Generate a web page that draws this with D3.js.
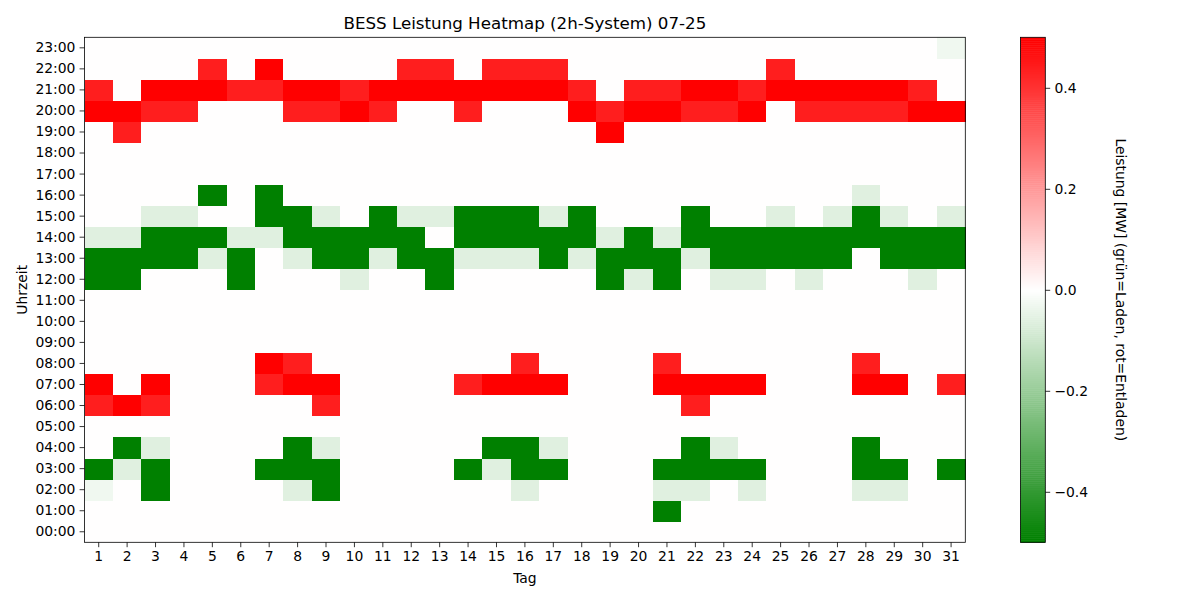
<!DOCTYPE html>
<html>
<head>
<meta charset="utf-8">
<script src="https://cdn.jsdelivr.net/npm/d3@7"></script>
<style>
  body { margin: 0; background: #fff; }
  svg { font-family: "DejaVu Sans", sans-serif; }
</style>
</head>
<body>
<div id="chart"></div>
<script>
// Tage 1..31, Stunden 00:00..23:00
const days = d3.range(1, 32);
const hourLabels = d3.range(0, 24).map(h => `${String(h).padStart(2, '0')}:00`);
const cbTicks = [-0.4, -0.2, 0.0, 0.2, 0.4];

// Leistung [MW] je Stunde, Tag 1..31 (0.5 = voll entladen, -0.5 = voll laden)
const h00 = [0,0,0,0,0,0,0,0,0,0,0,0,0,0,0,0,0,0,0,0,0,0,0,0,0,0,0,0,0,0,0];
const h01 = [0,0,0,0,0,0,0,0,0,0,0,0,0,0,0,0,0,0,0,0,-0.5,0,0,0,0,0,0,0,0,0,0];
const h02 = [-0.03,0,-0.5,0,0,0,0,-0.06,-0.5,0,0,0,0,0,0,-0.06,0,0,0,0,-0.06,-0.06,0,-0.06,0,0,0,-0.06,-0.06,0,0];
const h03 = [-0.5,-0.06,-0.5,0,0,0,-0.5,-0.5,-0.5,0,0,0,0,-0.5,-0.06,-0.5,-0.5,0,0,0,-0.5,-0.5,-0.5,-0.5,0,0,0,-0.5,-0.5,0,-0.5];
const h04 = [0,-0.5,-0.06,0,0,0,0,-0.5,-0.06,0,0,0,0,0,-0.5,-0.5,-0.06,0,0,0,0,-0.5,-0.06,0,0,0,0,-0.5,0,0,0];
const h05 = [0,0,0,0,0,0,0,0,0,0,0,0,0,0,0,0,0,0,0,0,0,0,0,0,0,0,0,0,0,0,0];
const h06 = [0.44,0.5,0.44,0,0,0,0,0,0.44,0,0,0,0,0,0,0,0,0,0,0,0,0.44,0,0,0,0,0,0,0,0,0];
const h07 = [0.5,0,0.5,0,0,0,0.44,0.5,0.5,0,0,0,0,0.44,0.5,0.5,0.5,0,0,0,0.5,0.5,0.5,0.5,0,0,0,0.5,0.5,0,0.44];
const h08 = [0,0,0,0,0,0,0.5,0.44,0,0,0,0,0,0,0,0.44,0,0,0,0,0.44,0,0,0,0,0,0,0.44,0,0,0];
const h09 = [0,0,0,0,0,0,0,0,0,0,0,0,0,0,0,0,0,0,0,0,0,0,0,0,0,0,0,0,0,0,0];
const h10 = [0,0,0,0,0,0,0,0,0,0,0,0,0,0,0,0,0,0,0,0,0,0,0,0,0,0,0,0,0,0,0];
const h11 = [0,0,0,0,0,0,0,0,0,0,0,0,0,0,0,0,0,0,0,0,0,0,0,0,0,0,0,0,0,0,0];
const h12 = [-0.5,-0.5,0,0,0,-0.5,0,0,0,-0.06,0,0,-0.5,0,0,0,0,0,-0.5,-0.06,-0.5,0,-0.06,-0.06,0,-0.06,0,0,0,-0.06,0];
const h13 = [-0.5,-0.5,-0.5,-0.5,-0.06,-0.5,0,-0.06,-0.5,-0.5,-0.06,-0.5,-0.5,-0.06,-0.06,-0.06,-0.5,-0.06,-0.5,-0.5,-0.5,-0.06,-0.5,-0.5,-0.5,-0.5,-0.5,0,-0.5,-0.5,-0.5];
const h14 = [-0.06,-0.06,-0.5,-0.5,-0.5,-0.06,-0.06,-0.5,-0.5,-0.5,-0.5,-0.5,0,-0.5,-0.5,-0.5,-0.5,-0.5,-0.06,-0.5,-0.06,-0.5,-0.5,-0.5,-0.5,-0.5,-0.5,-0.5,-0.5,-0.5,-0.5];
const h15 = [0,0,-0.06,-0.06,0,0,-0.5,-0.5,-0.06,0,-0.5,-0.06,-0.06,-0.5,-0.5,-0.5,-0.06,-0.5,0,0,0,-0.5,0,0,-0.06,0,-0.06,-0.5,-0.06,0,-0.06];
const h16 = [0,0,0,0,-0.5,0,-0.5,0,0,0,0,0,0,0,0,0,0,0,0,0,0,0,0,0,0,0,0,-0.06,0,0,0];
const h17 = [0,0,0,0,0,0,0,0,0,0,0,0,0,0,0,0,0,0,0,0,0,0,0,0,0,0,0,0,0,0,0];
const h18 = [0,0,0,0,0,0,0,0,0,0,0,0,0,0,0,0,0,0,0,0,0,0,0,0,0,0,0,0,0,0,0];
const h19 = [0,0.44,0,0,0,0,0,0,0,0,0,0,0,0,0,0,0,0,0.5,0,0,0,0,0,0,0,0,0,0,0,0];
const h20 = [0.5,0.5,0.44,0.44,0,0,0,0.44,0.44,0.5,0.44,0,0,0.44,0,0,0,0.5,0.44,0.5,0.5,0.44,0.44,0.5,0,0.44,0.44,0.44,0.44,0.5,0.5];
const h21 = [0.44,0,0.5,0.5,0.5,0.44,0.44,0.5,0.5,0.44,0.5,0.5,0.5,0.5,0.5,0.5,0.5,0.44,0,0.44,0.44,0.5,0.5,0.44,0.5,0.5,0.5,0.5,0.5,0.44,0];
const h22 = [0,0,0,0,0.44,0,0.5,0,0,0,0,0.44,0.44,0,0.44,0.44,0.44,0,0,0,0,0,0,0,0.44,0,0,0,0,0,0];
const h23 = [0,0,0,0,0,0,0,0,0,0,0,0,0,0,0,0,0,0,0,0,0,0,0,0,0,0,0,0,0,0,-0.03];

const power = [h00, h01, h02, h03, h04, h05, h06, h07, h08, h09, h10, h11,
  h12, h13, h14, h15, h16, h17, h18, h19, h20, h21, h22, h23];

const cells = [];
power.forEach((row, h) => row.forEach((v, i) => cells.push({ day: days[i], hour: h, value: v })));

const W = 1200;
const H = 600;
const plot = { left: 84.5, right: 965.3, top: 37.3, bottom: 542.3 };
const cb = { left: 1020.5, right: 1045.3 };
const vmin = -0.5;
const vmax = 0.5;

// Farbskala wie matplotlib LinearSegmentedColormap(['green','white','red']) mit 256 Stufen
const lut = d3.scaleLinear()
  .domain([0, 0.5, 1])
  .range(['#008000', '#ffffff', '#ff0000'])
  .interpolate(d3.interpolateRgb);
const color = v => {
  const t = (v - vmin) / (vmax - vmin);
  const idx = Math.max(0, Math.min(255, Math.floor(t * 256)));
  return lut(idx / 255);
};

const svg = d3.select('#chart')
  .append('svg')
  .attr('width', W)
  .attr('height', H);

const x = d3.scaleBand()
  .domain(days)
  .range([plot.left, plot.right])
  .padding(0);

const y = d3.scaleBand()
  .domain(d3.range(23, -1, -1))
  .range([plot.top, plot.bottom])
  .padding(0);

svg.append('g')
  .selectAll('rect')
  .data(cells)
  .join('rect')
    .attr('x', d => x(d.day))
    .attr('y', d => y(d.hour))
    .attr('width', x.bandwidth() + 0.4)
    .attr('height', y.bandwidth() + 0.4)
    .attr('fill', d => color(d.value))
    .attr('shape-rendering', 'crispEdges');

// Achsen
const xAxis = d3.axisBottom(x).tickSize(4.9).tickPadding(4.2);
const yAxis = d3.axisLeft(y).tickSize(4.9).tickPadding(4.2).tickFormat(h => hourLabels[h]);

const gx = svg.append('g')
  .attr('transform', `translate(0,${plot.bottom})`)
  .call(xAxis);
const gy = svg.append('g')
  .attr('transform', `translate(${plot.left},0)`)
  .call(yAxis);

[gx, gy].forEach(g => {
  g.select('.domain').remove();
  g.selectAll('line').attr('stroke', '#000').attr('stroke-width', 0.8);
  g.selectAll('text')
    .attr('fill', '#000')
    .attr('font-size', '13.9px')
    .attr('font-family', '"DejaVu Sans", sans-serif');
});

svg.append('rect')
  .attr('x', plot.left)
  .attr('y', plot.top)
  .attr('width', plot.right - plot.left)
  .attr('height', plot.bottom - plot.top)
  .attr('fill', 'none')
  .attr('stroke', '#000')
  .attr('stroke-width', 0.8);

svg.append('text')
  .attr('x', (plot.left + plot.right) / 2)
  .attr('y', 29)
  .attr('text-anchor', 'middle')
  .attr('font-size', '16.7px')
  .text('BESS Leistung Heatmap (2h-System) 07-25');

svg.append('text')
  .attr('x', (plot.left + plot.right) / 2)
  .attr('y', 583)
  .attr('text-anchor', 'middle')
  .attr('font-size', '13.9px')
  .text('Tag');

svg.append('text')
  .attr('transform', `translate(27,${(plot.top + plot.bottom) / 2}) rotate(-90)`)
  .attr('text-anchor', 'middle')
  .attr('font-size', '13.9px')
  .text('Uhrzeit');

// Farbleiste
const cbScale = d3.scaleLinear()
  .domain([vmin, vmax])
  .range([plot.bottom, plot.top]);

const steps = d3.range(256).map(i => vmin + (i + 0.5) / 256 * (vmax - vmin));
const stepH = (plot.bottom - plot.top) / 256;

svg.append('g')
  .selectAll('rect')
  .data(steps)
  .join('rect')
    .attr('x', cb.left)
    .attr('y', d => cbScale(d) - stepH / 2)
    .attr('width', cb.right - cb.left)
    .attr('height', stepH + 0.5)
    .attr('fill', d => color(d));

svg.append('rect')
  .attr('x', cb.left)
  .attr('y', plot.top)
  .attr('width', cb.right - cb.left)
  .attr('height', plot.bottom - plot.top)
  .attr('fill', 'none')
  .attr('stroke', '#000')
  .attr('stroke-width', 0.8);

const gc = svg.append('g')
  .attr('transform', `translate(${cb.right},0)`)
  .call(d3.axisRight(cbScale)
    .tickValues(cbTicks)
    .tickSize(4.9)
    .tickPadding(4.2)
    .tickFormat(d => d3.format('.1f')(d).replace('-', '\u2212')));
gc.select('.domain').remove();
gc.selectAll('line').attr('stroke', '#000').attr('stroke-width', 0.8);
gc.selectAll('text')
  .attr('fill', '#000')
  .attr('font-size', '13.9px')
  .attr('font-family', '"DejaVu Sans", sans-serif');

svg.append('text')
  .attr('transform', `translate(1116,${(plot.top + plot.bottom) / 2}) rotate(90)`)
  .attr('text-anchor', 'middle')
  .attr('font-size', '13.9px')
  .text('Leistung [MW] (grün=Laden, rot=Entladen)');
</script>
</body>
</html>
